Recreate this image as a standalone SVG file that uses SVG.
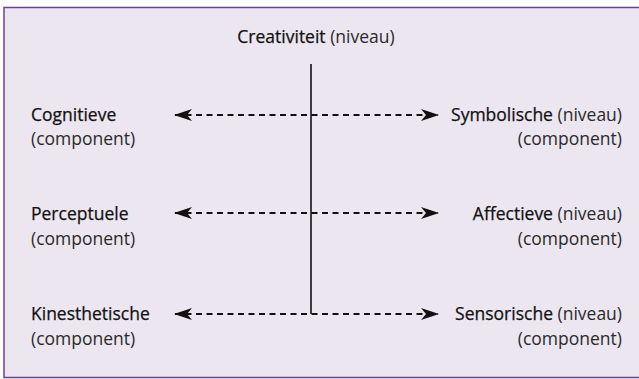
<svg xmlns="http://www.w3.org/2000/svg" width="639" height="379" viewBox="0 0 639 379">
<defs>
<style>
text{font-family:"Open Sans","Noto Sans","DejaVu Sans",sans-serif;font-size:17.5px;fill:#1a1a1a}
.b{fill:#111;stroke:#111;stroke-width:0.25}
.n{fill:#2a2a2a;stroke:none}
.r{text-anchor:end}
.c{text-anchor:middle}
.dash{stroke:#111;stroke-width:2.2;stroke-dasharray:6,4.5;fill:none}
</style>
<marker id="ah" viewBox="0 0 18 12" refX="17" refY="6" markerWidth="18" markerHeight="12" markerUnits="userSpaceOnUse" orient="auto-start-reverse">
<path d="M0,0 L18,6 L0,12 L5,6 Z" fill="#111"/>
</marker>
</defs>
<rect x="4" y="7.5" width="650" height="370" fill="#ece6f0" stroke="#6f3f8f" stroke-width="1.5"/>
<g id="connectors">
<line x1="311" y1="64" x2="311" y2="314" stroke="#111" stroke-width="1.6"/>
<line class="dash" x1="175" y1="115" x2="438" y2="115" marker-start="url(#ah)" marker-end="url(#ah)"/>
<line class="dash" x1="175" y1="213" x2="438" y2="213" marker-start="url(#ah)" marker-end="url(#ah)"/>
<line class="dash" x1="175" y1="314" x2="438" y2="314" marker-start="url(#ah)" marker-end="url(#ah)"/>
</g>
<g id="creativiteit"><text x="316" y="43" class="c"><tspan class="b">Creativiteit</tspan><tspan class="n"> (niveau)</tspan></text></g>
<g id="cognitieve"><text x="31" y="121" class="b">Cognitieve</text><text x="31" y="145" class="n">(component)</text></g>
<g id="perceptuele"><text x="31" y="220" class="b">Perceptuele</text><text x="31" y="245" class="n">(component)</text></g>
<g id="kinesthetische"><text x="31" y="320" class="b">Kinesthetische</text><text x="31" y="345" class="n">(component)</text></g>
<g id="symbolische"><text x="622" y="121" class="r"><tspan class="b">Symbolische</tspan><tspan class="n"> (niveau)</tspan></text><text x="622" y="145" class="r n">(component)</text></g>
<g id="affectieve"><text x="622" y="220" class="r"><tspan class="b">Affectieve</tspan><tspan class="n"> (niveau)</tspan></text><text x="622" y="245" class="r n">(component)</text></g>
<g id="sensorische"><text x="622" y="320" class="r"><tspan class="b">Sensorische</tspan><tspan class="n"> (niveau)</tspan></text><text x="622" y="345" class="r n">(component)</text></g>
</svg>
